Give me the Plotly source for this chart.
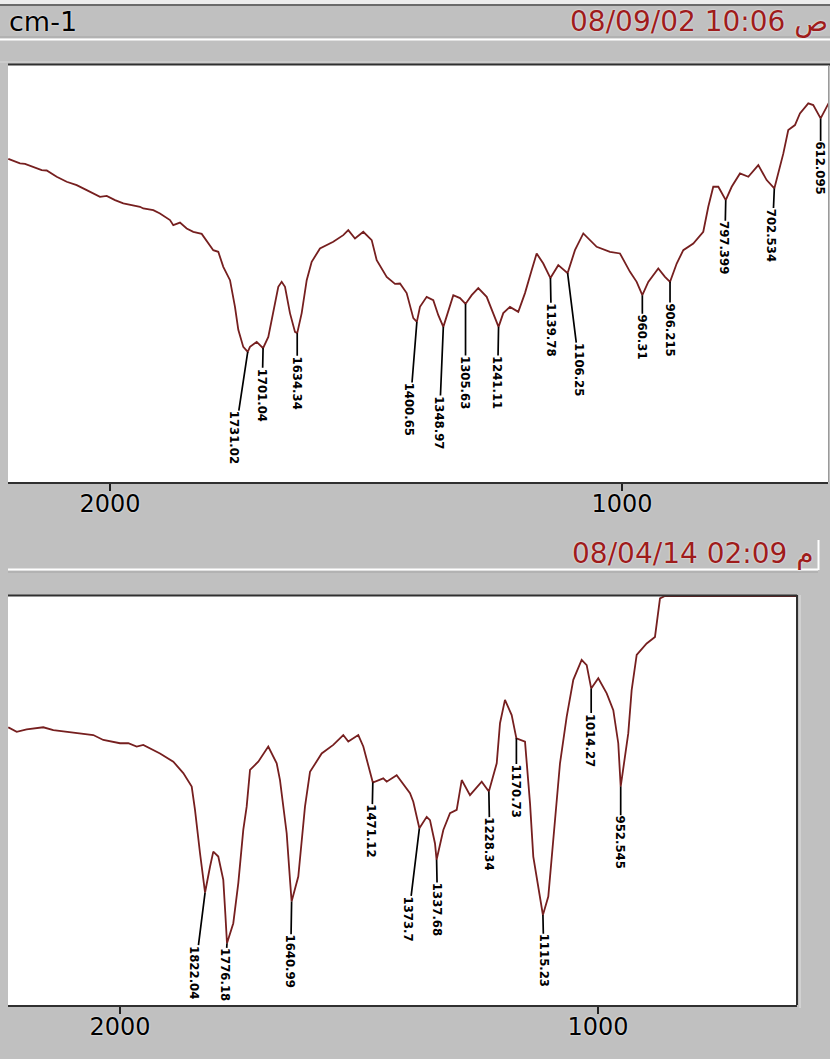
import plotly.graph_objects as go

# ---------------- spectrum data ----------------
# Upper spectrum: wavenumber (cm-1) and transmittance (%)
top_wn = [
    2198.6, 2175.8, 2166.0, 2149.8, 2133.4, 2123.6, 2104.1, 2084.6, 2065.0, 2045.5,
    2032.6, 2019.5, 2006.4, 1990.2, 1974.0, 1954.5, 1941.4, 1935.0, 1915.4, 1902.4,
    1882.8, 1876.4, 1863.3, 1850.2, 1837.3, 1820.9, 1808.0, 1798.3, 1788.5, 1778.7,
    1765.6, 1755.9, 1749.4, 1739.7, 1731.02, 1726.6, 1713.5, 1701.04, 1690.8, 1681.0,
    1671.3, 1664.7, 1658.2, 1648.5, 1638.7, 1634.34, 1625.6, 1615.8, 1606.1, 1589.9,
    1563.9, 1544.4, 1534.6, 1521.5, 1505.3, 1488.9, 1479.1, 1459.6, 1443.4, 1433.6,
    1420.6, 1407.6, 1400.65, 1394.6, 1381.5, 1368.6, 1358.8, 1348.97, 1339.3, 1329.5,
    1316.4, 1305.63, 1293.6, 1280.7, 1264.3, 1251.4, 1241.11, 1231.9, 1218.8, 1202.6,
    1189.5, 1176.5, 1166.7, 1153.8, 1139.78, 1124.5, 1106.25, 1091.9, 1075.6, 1049.5,
    1023.5, 1004.0, 984.4, 971.4, 960.31, 948.7, 929.2, 916.1, 906.215, 893.2,
    880.3, 860.8, 841.3, 831.5, 821.8, 811.9, 797.399, 785.8, 769.6, 753.3,
    733.8, 717.5, 702.534, 684.9, 675.3, 662.2, 652.5, 636.2, 626.5, 612.095,
    593.2,
]
top_T = [
    77.5, 76.4, 76.3, 75.5, 74.8, 74.7, 73.2, 72.0, 71.2, 70.0,
    69.2, 68.4, 68.6, 67.6, 66.8, 66.4, 66.0, 65.6, 65.2, 64.4,
    62.8, 61.6, 62.2, 60.8, 60.0, 59.5, 57.2, 55.6, 55.2, 51.6,
    48.4, 42.0, 36.5, 32.4, 31.2, 32.4, 33.6, 32.1, 34.8, 40.5,
    46.8, 48.0, 46.8, 40.5, 36.0, 35.7, 40.5, 48.4, 52.8, 56.0,
    57.6, 59.2, 60.4, 58.4, 60.0, 58.0, 53.2, 49.2, 47.5, 47.6,
    45.3, 39.3, 38.4, 42.0, 44.4, 43.6, 40.0, 37.2, 41.2, 44.8,
    44.1, 42.7, 44.8, 46.5, 44.4, 40.5, 37.2, 40.5, 42.0, 40.8,
    45.3, 50.8, 54.8, 52.4, 48.9, 52.0, 50.1, 55.6, 59.6, 56.4,
    55.2, 54.8, 50.4, 48.0, 44.8, 48.0, 51.2, 49.2, 48.0, 52.4,
    55.6, 57.2, 60.0, 66.0, 70.8, 70.8, 67.6, 70.8, 74.0, 73.2,
    76.0, 72.4, 70.4, 78.8, 84.4, 85.6, 88.4, 90.8, 90.4, 87.2,
    91.6,
]

# Lower spectrum
bot_wn = [
    2233.7, 2216.1, 2195.2, 2160.5, 2139.5, 2111.5, 2083.7, 2055.9, 2034.9, 2000.0,
    1982.6, 1965.1, 1951.3, 1916.3, 1888.5, 1867.6, 1850.0, 1843.1, 1832.6, 1825.7,
    1822.04, 1811.7, 1804.8, 1794.4, 1783.9, 1779.5, 1776.18, 1763.0, 1752.5, 1742.1,
    1735.0, 1728.0, 1710.7, 1689.8, 1672.2, 1665.3, 1651.3, 1644.0, 1640.99, 1627.0,
    1620.1, 1613.0, 1602.5, 1578.1, 1553.8, 1532.9, 1522.4, 1501.5, 1491.0, 1480.6,
    1471.12, 1449.2, 1442.1, 1421.2, 1393.3, 1386.4, 1373.7, 1358.4, 1351.5, 1341.0,
    1337.68, 1323.6, 1309.6, 1295.6, 1285.1, 1267.8, 1243.3, 1228.34, 1211.9, 1205.0,
    1194.6, 1180.6, 1170.73, 1152.7, 1142.2, 1135.4, 1121.4, 1115.23, 1104.0, 1090.0,
    1079.5, 1065.5, 1051.7, 1034.2, 1023.7, 1014.27, 999.4, 981.8, 968.0, 957.6,
    952.545, 936.7, 929.6, 919.1, 898.2, 880.8, 877.3, 870.3, 860.0, 583.0,
]
bot_T = [
    67.9, 66.8, 67.4, 67.9, 67.2, 66.8, 66.3, 66.0, 64.8, 64.0,
    64.0, 63.2, 63.6, 61.5, 59.5, 56.7, 53.4, 47.7, 37.1, 31.4,
    27.5, 33.8, 37.5, 36.3, 30.6, 22.0, 15.1, 20.0, 29.8, 42.8,
    48.5, 57.5, 59.5, 63.2, 59.1, 55.0, 42.0, 30.0, 25.3, 31.4,
    40.3, 48.5, 57.0, 61.5, 63.6, 66.0, 64.4, 66.0, 63.2, 58.3,
    54.4, 55.4, 54.6, 56.2, 51.8, 49.7, 43.2, 46.0, 45.2, 39.5,
    35.5, 42.8, 46.9, 47.7, 55.0, 51.3, 54.6, 52.2, 59.1, 68.9,
    74.6, 70.9, 65.2, 64.4, 49.3, 36.3, 25.7, 22.0, 26.5, 44.4,
    59.1, 70.5, 79.5, 84.4, 83.1, 77.4, 79.9, 76.2, 72.1, 64.0,
    53.4, 66.4, 77.0, 85.6, 88.4, 90.0, 93.7, 99.4, 100.0, 100.0,
]

# Picked peaks (cm-1) as printed by the instrument software
top_peaks = ["1731.02", "1701.04", "1634.34", "1400.65", "1348.97", "1305.63", "1241.11",
             "1139.78", "1106.25", "960.31", "906.215", "797.399", "702.534", "612.095"]
bot_peaks = ["1822.04", "1776.18", "1640.99", "1471.12", "1373.7", "1337.68", "1228.34",
             "1170.73", "1115.23", "1014.27", "952.545"]

tick_vals = [2000, 1000]
tick_text = ["2000", "1000"]

top_stamp = "08/09/02 10:06 ص"
bot_stamp = "08/04/14 02:09 م"
unit_text = "cm-1"

# ---------------- layout constants ----------------
W, H = 830, 1059
GRAY = "#c0c0c0"
TRACE = "#761f1f"
DARK = "#303030"
LBL_FONT = "DejaVu Sans Condensed, Liberation Sans Narrow, Arial Narrow, sans-serif"
LBL_SIZE = 13
UI_FONT = "DejaVu Sans, Verdana, sans-serif"
HALO = "0px 0px 2px #ffffff"

# leader-line offsets in pixels (dx to label centre, dy to label top)
top_offsets = [(-13, 58), (-1, 19), (0, 22), (-7, 60), (-4, 68), (0, 51), (-1, 28),
               (1, 24), (12, 69), (0, 18), (0, 20), (-1, 20), (-2, 19), (0, 22)]
bot_offsets = [(-10, 52), (-2, 4), (-1, 32), (-1, 21), (-11, 67), (1, 22), (1, 25),
               (0, 25), (1, 18), (0, 24), (0, 28)]


def px(x):
    return x / W


def py(y):
    return 1 - y / H


def label_len(s):
    # advance widths of DejaVu Sans Condensed Bold digits / period, in em
    return sum(0.626 if c.isdigit() else 0.342 for c in s) * LBL_SIZE


fig = go.Figure()
fig.add_trace(go.Scatter(x=top_wn, y=top_T, mode="lines", xaxis="x", yaxis="y",
                         line=dict(color=TRACE, width=1.8), hoverinfo="skip", showlegend=False))
fig.add_trace(go.Scatter(x=bot_wn, y=bot_T, mode="lines", xaxis="x2", yaxis="y2",
                         line=dict(color=TRACE, width=1.8), hoverinfo="skip", showlegend=False))

annotations = []


def peak_labels(labels, offsets, wn, T, xr, yr):
    for lab, (dx, dy) in zip(labels, offsets):
        v = float(lab)
        i = min(range(len(wn)), key=lambda k: abs(wn[k] - v))
        annotations.append(dict(
            x=v, y=T[i], xref=xr, yref=yr, text=lab, textangle=90,
            showarrow=True, arrowhead=0, arrowwidth=1.7, arrowcolor="black",
            ax=dx, ay=dy + label_len(lab) / 2 + 1, standoff=0, borderpad=0,
            font=dict(family=LBL_FONT, size=LBL_SIZE, color="black", weight="bold"),
        ))


peak_labels(top_peaks, top_offsets, top_wn, top_T, "x", "y")
peak_labels(bot_peaks, bot_offsets, bot_wn, bot_T, "x2", "y2")

# header texts
annotations += [
    dict(x=px(7), y=py(21), xref="paper", yref="paper", text=unit_text, showarrow=False,
         xanchor="left", yanchor="middle",
         font=dict(family=UI_FONT, size=27, color="black", shadow=HALO)),
    dict(x=px(829), y=py(21), xref="paper", yref="paper", text=top_stamp, showarrow=False,
         xanchor="right", yanchor="middle", borderpad=0,
         font=dict(family=UI_FONT, size=28, color="#9e1c1c", shadow=HALO)),
    dict(x=px(816), y=py(553), xref="paper", yref="paper", text=bot_stamp, showarrow=False,
         xanchor="right", yanchor="middle",
         font=dict(family=UI_FONT, size=28, color="#9e1c1c", shadow=HALO)),
]


def hline(y, x0, x1, color, width=1, layer="above"):
    return dict(type="line", xref="paper", yref="paper", x0=px(x0), x1=px(x1),
                y0=py(y), y1=py(y), line=dict(color=color, width=width), layer=layer)


def vline(x, y0, y1, color, width=1, layer="above"):
    return dict(type="line", xref="paper", yref="paper", x0=px(x), x1=px(x),
                y0=py(y0), y1=py(y1), line=dict(color=color, width=width), layer=layer)


shapes = [
    dict(type="rect", xref="paper", yref="paper", x0=0, x1=1, y0=py(0), y1=py(4),
         fillcolor="#ececec", line=dict(width=0), layer="below"),
    hline(5, 0, 830, "#6a6a6a", 2),
    hline(37, 0, 830, "#a4a4a4", 1),
    hline(39.5, 0, 830, "#ffffff", 2),
    hline(62, 0, 830, "#d8d8d8", 1),
    hline(64.5, 8, 830, DARK, 2),
    vline(828.5, 65, 482, "#9a9a9a", 1),
    # lower header box
    hline(569.5, 8, 818, "#ffffff", 2),
    vline(818.5, 540, 570, "#ffffff", 2),
    hline(572, 8, 818, "#a4a4a4", 1),
    hline(595.5, 8, 797, DARK, 2),
    vline(797, 595, 1005, DARK, 2),
    vline(800, 595, 1008, "#e2e2e2", 1),
]

axis_common = dict(
    tickvals=tick_vals, ticktext=tick_text, ticks="outside", ticklen=7, tickwidth=1.5,
    tickcolor="#202020", showline=True, linecolor=DARK, linewidth=2, showgrid=False,
    zeroline=False, fixedrange=True, ticklabelstandoff=-8,
    tickfont=dict(family=UI_FONT, size=24, color="black", shadow=HALO),
)

fig.update_layout(
    width=W, height=H, autosize=False,
    margin=dict(l=0, r=0, t=0, b=0, pad=0),
    paper_bgcolor=GRAY, plot_bgcolor="white",
    showlegend=False,
    xaxis=dict(domain=[px(8), px(828)], range=[2199.2, 597.7], anchor="y", **axis_common),
    yaxis=dict(domain=[py(482), py(65)], range=[0, 100], visible=False, fixedrange=True),
    xaxis2=dict(domain=[px(8), px(797)], range=[2234.3, 583.7], anchor="y2", **axis_common),
    yaxis2=dict(domain=[py(1005), py(596)], range=[0, 100], visible=False, fixedrange=True),
    annotations=annotations,
    shapes=shapes,
)

fig.write_html("out.html")
